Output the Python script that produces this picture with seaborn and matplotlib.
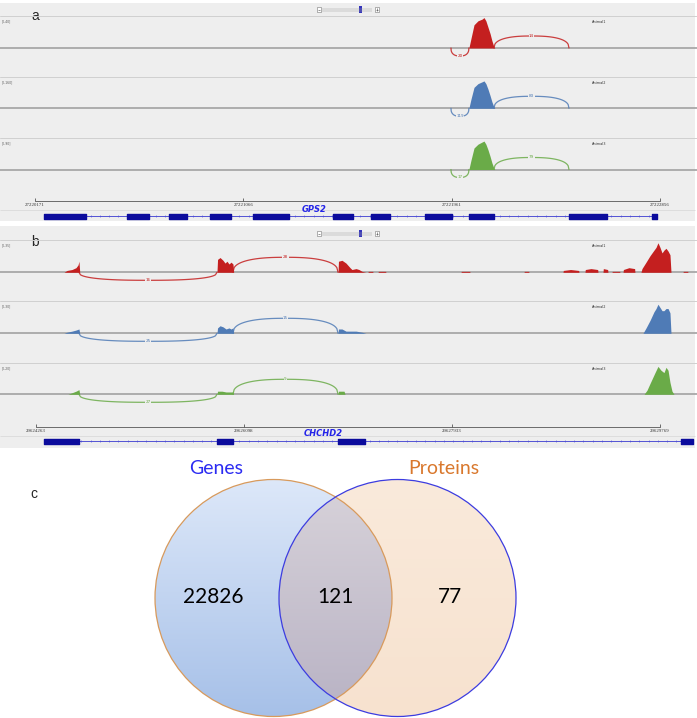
import numpy as np
import matplotlib
matplotlib.use("Agg")
import matplotlib.pyplot as plt
from matplotlib.patches import Circle, Rectangle
import seaborn as sns

W, H = 697, 718
BG = "#eeeeee"

ANIMALS = ["Animal1", "Animal2", "Animal3"]
TRACK_COLORS = ["#c41f1f", "#4f7bb6", "#6aab48"]

# ---- panel a: GPS2 ----
A_GENE = "GPS2"
A_RULER = [27220171, 27221066, 27221961, 27222856]
A_RANGE = [40, 160, 90]
A_POS = [27222035, 27222044, 27222057, 27222074, 27222091, 27222100,
         27222108, 27222117, 27222126, 27222134, 27222143, 27222147]
A_COV1 = [0, 12, 29, 34, 36, 38, 34, 26, 18, 9, 1, 0]
A_COV2 = [0, 47, 107, 126, 135, 140, 126, 98, 65, 33, 5, 0]
A_COV3 = [0, 27, 62, 73, 79, 82, 73, 57, 38, 19, 3, 0]
A_JUNC_UP = (27222143, 27222465)
A_JUNC_DOWN = (27221958, 27222035)
A_UP_COUNTS = [14, 83, 79]
A_DOWN_COUNTS = [20, 119, 17]
A_EXONS = [(27220210, 27220390), (27220566, 27220661), (27220747, 27220824),
           (27220923, 27221013), (27221108, 27221262), (27221451, 27221537),
           (27221614, 27221696), (27221847, 27221962), (27222035, 27222143),
           (27222465, 27222628), (27222822, 27222843)]

# ---- panel b: CHCHD2 ----
B_GENE = "CHCHD2"
B_RULER = [29624263, 29626098, 29627933, 29629769]
B_RANGE = [35, 30, 20]
B_POS1 = [29624510, 29624537, 29624581, 29624616, 29624634, 29624642, 29624649,
          29625860, 29625865, 29625887, 29625913, 29625931, 29625948, 29625966,
          29625984, 29626001, 29626007,
          29626928, 29626932, 29626963, 29626998, 29627034, 29627051, 29627087,
          29627113, 29627140, 29627175,
          29627192, 29627195, 29627234, 29627237,
          29627281, 29627284, 29627348, 29627351,
          29628013, 29628016, 29628090, 29628093,
          29628569, 29628572, 29628610, 29628613,
          29628913, 29628916, 29628980, 29629051, 29629054,
          29629107, 29629110, 29629160, 29629219, 29629222,
          29629266, 29629269, 29629307, 29629310,
          29629345, 29629348, 29629413, 29629416,
          29629443, 29629446, 29629495, 29629545, 29629548,
          29629601, 29629610, 29629646, 29629681, 29629716, 29629734, 29629751,
          29629769, 29629787, 29629804, 29629822, 29629840, 29629857, 29629866,
          29629972, 29629975, 29630013, 29630016]
B_COV1 = [0, 2, 3, 5, 8, 12, 0,
          0, 14, 16, 13, 10, 12, 9, 11, 9, 0,
          0, 12, 13, 10, 5, 3, 4, 3, 1, 0,
          0, 1, 1, 0,
          0, 1, 1, 0,
          0, 1, 1, 0,
          0, 1, 1, 0,
          0, 2, 3, 2, 0,
          0, 3, 4, 3, 0,
          0, 4, 3, 0,
          0, 1, 1, 0,
          0, 3, 5, 4, 0,
          0, 4, 11, 18, 24, 27, 32, 27, 21, 24, 26, 23, 19, 0,
          0, 1, 1, 0]
B_POS2 = [29624510, 29624537, 29624581, 29624616, 29624642, 29624649,
          29625860, 29625865, 29625887, 29625913, 29625940, 29625966, 29625984,
          29626001, 29626007,
          29626928, 29626932, 29626963, 29626998, 29627034, 29627087, 29627140,
          29627175,
          29629619, 29629646, 29629681, 29629716, 29629734, 29629751, 29629769,
          29629787, 29629804, 29629822, 29629840, 29629857, 29629866]
B_COV2 = [0, 1, 2, 3, 4, 0,
          0, 5, 7, 6, 4, 5, 4, 5, 0,
          0, 4, 4, 2, 2, 2, 1, 0,
          0, 5, 12, 20, 23, 27, 24, 21, 21, 23, 23, 19, 0]
B_POS3 = [29624545, 29624581, 29624616, 29624642, 29624649,
          29625860, 29625865, 29625904, 29625940, 29626001, 29626007,
          29626928, 29626932, 29626981, 29626990,
          29629628, 29629654, 29629681, 29629725, 29629751, 29629778, 29629804,
          29629822, 29629840, 29629857, 29629875, 29629893]
B_COV3 = [0, 1, 2, 3, 0,
          0, 2, 2, 1.5, 1.5, 0,
          0, 2, 2, 0,
          0, 2.6, 7, 14, 18, 15.5, 14, 17.4, 15.5, 7.7, 2, 0]
B_JUNC_UP = (29626001, 29626928)
B_JUNC_DOWN = (29624642, 29625860)
B_UP_COUNTS = [28, 15, 9]
B_DOWN_COUNTS = [16, 25, 27]
B_EXONS = [(29624334, 29624642), (29625860, 29626001), (29626928, 29627166),
           (29629955, 29630060)]

# ---- panel c: Venn ----
VENN_SETS = ["Genes", "Proteins"]
VENN_COUNTS = [22826, 121, 77]

LAYOUT_A = dict(bg=(3, 221), tracks=[(16, 48), (77, 108.3), (138.3, 169.5)],
                ruler=200.7, gene=216, tick_px=(35, 660), up_px=12, down_px=8,
                gene_label=(314, 210), widget_y=9.5, letter=(31, 20))
LAYOUT_B = dict(bg=(226, 448), tracks=[(240, 272.3), (301, 333.3), (363.3, 394.3)],
                ruler=426.5, gene=441, tick_px=(36, 660), up_px=15, down_px=8,
                gene_label=(323.5, 434), widget_y=233.5, letter=(31, 245.5))


def to_rect(x0, y0, x1, y1):
    return [x0 / W, 1 - y1 / H, (x1 - x0) / W, (y1 - y0) / H]


def arc_points(x0, x1, h, n=90, p=2.5):
    u = np.linspace(0, 1, n)
    y = h * np.clip(1 - np.abs(2 * u - 1) ** p, 0, None) ** (1 / p)
    return x0 + (x1 - x0) * u, y


def draw_widget(ov, y):
    for x in (316.5, 375):
        ov.add_patch(Rectangle((x, y - 2.3), 4.4, 4.6, fc="white", ec="#777777", lw=0.4))
        ov.hlines(y, x + 1, x + 3.4, color="#444444", lw=0.4)
    ov.vlines(377.2, y - 1.2, y + 1.2, color="#444444", lw=0.4)
    ov.vlines(np.arange(323, 373, 2), y - 2, y + 2, color="#a0a0a0", lw=0.35)
    ov.add_patch(Rectangle((359.2, y - 3.3), 2.4, 6.6, fc="#3434bb", ec="none"))


def draw_panel(fig, ov, lay, gene, ruler, ranges, tracks, junc_up, junc_down,
               up_counts, down_counts, exons, letter):
    t0, t1 = lay["tick_px"]
    bp_px = (ruler[-1] - ruler[0]) / (t1 - t0)
    xlim = (ruler[0] - t0 * bp_px, ruler[0] + (W - t0) * bp_px)
    top, bottom = lay["bg"]
    ov.add_patch(Rectangle((0, top), W - 2, bottom - top, fc=BG, ec="none", zorder=0))
    ov.text(*lay["letter"], letter, fontsize=10, family="Liberation Sans",
            ha="left", va="baseline", zorder=3)
    draw_widget(ov, lay["widget_y"])

    below = 26
    for i, ((div, base), rng, (pos, cov)) in enumerate(zip(lay["tracks"], ranges, tracks)):
        color = TRACK_COLORS[i]
        ax = fig.add_axes(to_rect(0, div, W, base + below))
        ax.set_zorder(2)
        ax.patch.set_visible(False)
        per_px = rng / (base - div)
        ax.set_xlim(*xlim)
        ax.set_ylim(-below * per_px, rng)
        ax.axhline(rng, color="#d0d0d0", lw=0.7, clip_on=False, zorder=1)
        ax.axhline(0, color="#a8a8a8", lw=1.3, zorder=1)
        ax.fill_between(pos, cov, 0, color=color, lw=0, zorder=2)
        for (x0, x1), n, h in ((junc_up, up_counts[i], lay["up_px"]),
                               (junc_down, down_counts[i], -lay["down_px"])):
            xs, ys = arc_points(x0, x1, h * per_px)
            sns.lineplot(x=xs, y=ys, ax=ax, color=color, lw=0.9, alpha=0.85,
                         sort=False, estimator=None, zorder=3)
            ax.text((x0 + x1) / 2, h * per_px, str(n), fontsize=3, color=color,
                    ha="center", va="center", zorder=4,
                    bbox=dict(boxstyle="square,pad=0.1", fc=BG, ec="none"))
        ax.set_axis_off()
        ov.text(2, div + 5, f"[0-{rng}]", fontsize=2.2, color="#555555", va="center")
        ov.text(592, div + 6, ANIMALS[i], fontsize=2.5, color="#333333", va="center")

    # ruler
    ry = lay["ruler"]
    rax = fig.add_axes(to_rect(0, ry - 6, W, ry + 9))
    rax.set_zorder(2)
    rax.patch.set_visible(False)
    rax.set_xlim(*xlim)
    rax.set_ylim(ry + 9, ry - 6)
    rax.plot([ruler[0], ruler[-1]], [ry, ry], color="#555555", lw=0.6)
    rax.vlines(ruler, ry - 3, ry, color="#555555", lw=0.6)
    for r in ruler:
        rax.text(r, ry + 4.5, str(r), fontsize=3.5, family="Liberation Serif",
                 ha="center", va="center", color="#333333")
    rax.set_axis_off()
    ov.hlines(ry + 9.3, 0, W - 2, color="#dadada", lw=0.6)

    # gene model
    gy = lay["gene"]
    gax = fig.add_axes(to_rect(0, gy - 6, W, gy + 6))
    gax.set_zorder(2)
    gax.patch.set_visible(False)
    gax.set_xlim(*xlim)
    gax.set_ylim(gy + 6, gy - 6)
    g0, g1 = exons[0][0], exons[-1][1]
    gax.hlines(gy, g0, g1, color="#3a3ad0", lw=0.6, zorder=1)
    tick_x = np.arange(g0, g1, 9.3 * bp_px)
    gax.plot(tick_x, np.full(len(tick_x), gy), ls="none", marker="|", ms=2.0,
             mew=0.4, color="#4a4ad8", zorder=1)
    gax.broken_barh([(s, e - s) for s, e in exons], (gy - 2.5, 5), color="#0b0b9c",
                    zorder=3)
    gax.set_axis_off()
    ov.text(*lay["gene_label"], gene, fontsize=6, fontweight="bold", style="italic",
            color="#2424e8", ha="center", va="center", zorder=3)


def draw_venn(ov):
    cxl, cxr, cy, r = 273.5, 397.5, 598, 118.5
    xs = np.arange(150, 522) + 0.5
    ys = np.arange(475, 719) + 0.5
    X, Y = np.meshgrid(xs, ys)
    in_l = (X - cxl) ** 2 + (Y - cy) ** 2 <= r ** 2
    in_r = (X - cxr) ** 2 + (Y - cy) ** 2 <= r ** 2
    t = ((Y - (cy - r)) / (2 * r)).clip(0, 1)[..., None]

    def grad(c_top, c_bot):
        c_top, c_bot = np.array(c_top), np.array(c_bot)
        return (c_top + (c_bot - c_top) * t) / 255

    img = np.zeros(X.shape + (4,))
    left_only = in_l & ~in_r
    right_only = in_r & ~in_l
    both = in_l & in_r
    img[left_only, :3] = grad((221, 232, 249), (166, 192, 232))[left_only]
    img[right_only, :3] = grad((250, 234, 219), (247, 226, 207))[right_only]
    img[both, :3] = grad((216, 211, 218), (184, 178, 196))[both]
    img[..., 3] = (in_l | in_r).astype(float)
    ov.imshow(img, extent=(150, 522, 719, 475), aspect="auto",
              interpolation="bilinear", zorder=1)
    ov.add_patch(Circle((cxl, cy), r, fill=False, ec="#d89a5c", lw=0.9, zorder=2))
    ov.add_patch(Circle((cxr, cy), r, fill=False, ec="#3c3ce0", lw=0.9, zorder=2))

    ov.text(216, 468, VENN_SETS[0], fontsize=14, family="Lato", color="#2b2bf2",
            ha="center", va="center")
    ov.text(444, 468, VENN_SETS[1], fontsize=14, family="Lato", color="#d9782d",
            ha="center", va="center")
    for x, n in zip((213, 335, 450), VENN_COUNTS):
        ov.text(x, 597, str(n), fontsize=15, family="Lato", color="black",
                ha="center", va="center", zorder=3)
    ov.text(30, 498, "c", fontsize=10, family="Liberation Sans", ha="left",
            va="baseline")


sns.set_theme(style="white")
plt.rcParams["font.family"] = ["DejaVu Sans"]

fig = plt.figure(figsize=(W / 100, H / 100), dpi=100)
ov = fig.add_axes([0, 0, 1, 1])
ov.set_zorder(0)

draw_panel(fig, ov, LAYOUT_A, A_GENE, A_RULER, A_RANGE,
           [(A_POS, A_COV1), (A_POS, A_COV2), (A_POS, A_COV3)],
           A_JUNC_UP, A_JUNC_DOWN, A_UP_COUNTS, A_DOWN_COUNTS, A_EXONS, "a")
draw_panel(fig, ov, LAYOUT_B, B_GENE, B_RULER, B_RANGE,
           [(B_POS1, B_COV1), (B_POS2, B_COV2), (B_POS3, B_COV3)],
           B_JUNC_UP, B_JUNC_DOWN, B_UP_COUNTS, B_DOWN_COUNTS, B_EXONS, "b")
draw_venn(ov)

ov.set_xlim(0, W)
ov.set_ylim(H, 0)
ov.set_axis_off()

fig.savefig("out.png", dpi=100)
